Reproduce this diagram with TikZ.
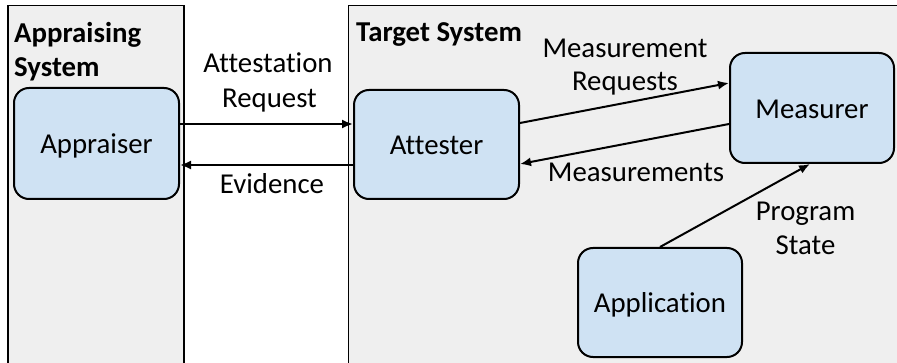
\documentclass[tikz,border=0pt]{standalone}
\usepackage{fontspec}
\setmainfont[Ligatures={NoCommon}]{Carlito}
\usetikzlibrary{arrows.meta,calc}
\definecolor{panelfill}{RGB}{239,239,239}
\definecolor{boxfill}{RGB}{207,226,243}
\tikzset{
  panel/.style={draw=black, line width=1.7pt, fill=panelfill},
  compbox/.style={draw=black, line width=2pt, fill=boxfill, rounded corners=15pt,
    inner sep=0pt, text height=21pt, text depth=0pt, font=\fontsize{28.8}{34}\selectfont},
  lbl/.style={anchor=base, inner sep=0pt, font=\fontsize{28.8}{34}\selectfont},
  title/.style={anchor=base west, inner sep=0pt, font=\fontsize{28.8}{34}\selectfont\bfseries},
  flow/.style={draw=black, line width=2pt, -{Latex[length=11pt,width=9pt]}}
}
\begin{document}
\begin{tikzpicture}[x=1pt,y=-1pt]
\useasboundingbox (0,0) rectangle (897,363);
\clip (0,0) rectangle (897,363);
\fill[white] (0,0) rectangle (897,363);
% panels
\draw[panel] (8,5.5) rectangle (184,366);
\draw[panel] (348.5,5.5) rectangle (905,366);
% titles
\node[title] (t1) at (14,43) {Appraising};
\node[title] (t2) at (14,77) {System};
\node[title] (t3) at (356,42) {Target System};
% components
\node[compbox, minimum width=165pt, minimum height=111pt] (appr) at (96.5,143.5) {Appraiser};
\node[compbox, minimum width=165pt, minimum height=109pt] (att) at (436.5,144.5) {Attester};
\node[compbox, minimum width=164pt, minimum height=110pt] (meas) at (812,108) {Measurer};
\node[compbox, minimum width=164pt, minimum height=109pt] (app) at (660,302.5) {Application};
% connectors
\draw[flow] ($(appr.east)+(0,-19.5)$) -- ($(att.west)+(0,-20.5)$);
\draw[flow] ($(att.west)+(0,20.5)$) -- ($(appr.east)+(0,21.5)$);
\draw[flow] ($(att.east)+(0,-21.5)$) -- ($(meas.west)+(0,-25)$);
\draw[flow] ($(meas.west)+(0,16)$) -- ($(att.east)+(0,19.5)$);
\draw[flow] (app.north) -- ($(meas.south)+(-2,0)$);
% labels
\node[lbl] (l1) at (268,73) {Attestation};
\node[lbl] (l2) at (269.5,108) {Request};
\node[lbl] (l3) at (272,194) {Evidence};
\node[lbl] (l4) at (625,58) {Measurement};
\node[lbl] (l5) at (625,91) {Requests};
\node[lbl] (l6) at (636,182) {Measurements};
\node[lbl] (l7) at (805.5,221) {Program};
\node[lbl] (l8) at (805.5,255) {State};
\end{tikzpicture}
\end{document}
